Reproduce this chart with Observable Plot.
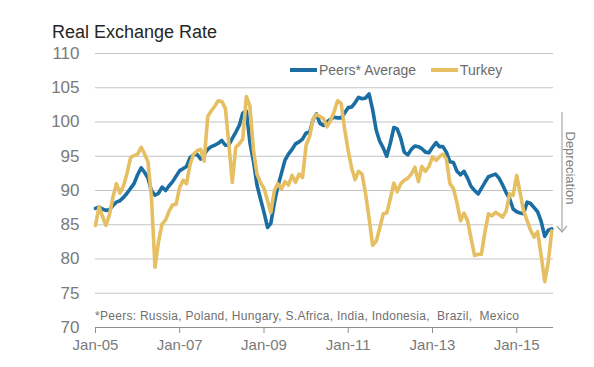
<!DOCTYPE html>
<html>
<head>
<meta charset="utf-8">
<script src="https://cdn.jsdelivr.net/npm/d3@7"></script>
<script src="https://cdn.jsdelivr.net/npm/@observablehq/plot@0.6"></script>
<style>
  html, body { margin: 0; padding: 0; background: #fff; }
  #wrap { position: relative; width: 594px; height: 367px; overflow: hidden; }
  #overlay { position: absolute; left: 0; top: 0; pointer-events: none; }
</style>
</head>
<body>
<div id="wrap">
  <div id="chart"></div>
  <svg id="overlay" width="594" height="367" font-family="'Liberation Sans', Arial, sans-serif">
    <text x="52" y="38" font-size="18" fill="#262626">Real Exchange Rate</text>
    <line x1="290" x2="317" y1="70" y2="70" stroke="#1a6ea1" stroke-width="4"/>
    <text x="319" y="75" font-size="14" fill="#6b6b6b">Peers* Average</text>
    <line x1="431" x2="458" y1="70" y2="70" stroke="#e6bf62" stroke-width="4"/>
    <text x="460" y="75" font-size="14" fill="#6b6b6b">Turkey</text>
    <line x1="562" x2="562" y1="112" y2="232" stroke="#a8a8a8" stroke-width="1.2"/>
    <polyline points="557,226 562,232 567,226" fill="none" stroke="#a8a8a8" stroke-width="1.2"/>
    <text transform="translate(566,168) rotate(90)" text-anchor="middle" font-size="13" fill="#7f7f7f">Depreciation</text>
    <text x="95" y="320" font-size="12" fill="#6f6f6f" textLength="424" lengthAdjust="spacing" style="white-space:pre">*Peers: Russia, Poland, Hungary, S.Africa, India, Indonesia,  Brazil,  Mexico</text>
  </svg>
</div>
<script>
// Monthly series, Jan 2005 .. Nov 2015
const startMonth = Date.UTC(2005, 0, 1);

const peers = [
  87.4, 87.6, 87.3, 87.1, 87.2, 87.8, 88.3, 88.5, 89.0, 89.6, 90.3, 91.0,
  92.3, 93.3, 92.7, 91.8, 90.0, 89.3, 89.6, 90.5, 90.0, 90.7, 91.3, 92.1,
  92.9, 93.2, 93.5, 94.8, 95.2, 95.3, 94.6, 95.3, 96.0, 96.4, 96.6, 96.9,
  97.3, 96.6, 96.6, 97.6, 98.5, 99.5, 101.3, 101.6, 97.0, 94.3, 90.8, 88.8,
  86.8, 84.6, 85.2, 88.2, 90.6, 92.5, 94.4, 95.3, 96.0, 96.8, 97.1, 97.5,
  98.4, 98.5, 100.3, 101.2, 99.8, 99.5, 100.0, 100.4, 100.7, 100.6, 100.6, 101.3,
  102.1, 102.2, 102.8, 103.6, 103.4, 103.5, 104.1, 101.8, 98.8, 97.2, 96.2, 95.0,
  96.9, 99.2, 99.0, 97.6, 95.6, 95.2, 96.0, 96.5, 96.4, 96.1, 95.6, 95.5,
  96.3, 97.0, 96.4, 96.4, 95.6, 94.2, 94.1, 92.8, 92.3, 92.8, 91.8, 90.6,
  90.0, 89.5, 90.3, 91.2, 92.0, 92.2, 92.4, 91.8, 90.8, 89.7, 88.8, 87.3,
  86.9, 86.7, 86.6, 88.3, 88.1, 87.5, 86.9, 85.5, 83.3, 84.2, 84.4
];

const turkey = [
  84.9, 87.6, 86.3, 84.9, 86.4, 89.0, 91.0, 89.6, 90.7, 92.5, 94.8, 95.1,
  95.3, 96.3, 95.4, 94.2, 89.0, 78.8, 82.5, 85.1, 85.7, 87.0, 87.9, 88.0,
  90.5, 91.5, 91.0, 93.8, 95.3, 95.8, 96.0, 94.3, 100.8, 101.6, 102.3, 103.1,
  103.0, 102.0, 97.0, 91.2, 96.3, 96.8, 97.5, 103.7, 102.3, 96.0, 92.4, 91.2,
  90.3, 88.5, 86.8, 90.0, 91.0, 90.2, 91.3, 90.8, 92.2, 91.2, 92.4, 91.9,
  96.6, 97.9, 100.4, 101.1, 100.8, 100.5, 99.3, 100.2, 101.5, 103.1, 102.7, 99.0,
  95.8, 93.2, 91.6, 92.8, 92.4, 89.5, 86.0, 82.0, 82.6, 84.5, 86.6, 86.7,
  88.8, 91.1, 89.8, 91.0, 91.5, 91.8, 92.4, 93.4, 91.3, 93.5, 92.8, 93.5,
  94.9, 94.4, 94.9, 95.3, 94.6, 91.0, 90.3, 88.2, 85.6, 86.7, 85.6, 83.0,
  80.5, 80.7, 80.7, 84.0, 86.6, 86.3, 86.8, 86.5, 86.1, 87.0, 89.5, 89.3,
  92.2, 89.5, 87.1, 85.6, 84.2, 83.2, 84.0, 80.5, 76.7, 79.5, 84.1
];

const yTicks = [70, 75, 80, 85, 90, 95, 100, 105, 110];
const xTickLabels = ["Jan-05", "Jan-07", "Jan-09", "Jan-11", "Jan-13", "Jan-15"];

const months = peers.map((_, i) => d3.utcMonth.offset(new Date(startMonth), i));
const peersData = months.map((d, i) => ({date: d, value: peers[i]}));
const turkeyData = months.map((d, i) => ({date: d, value: turkey[i]}));
const parseTick = d3.utcParse("%b-%y");
const xTickDates = xTickLabels.map(parseTick);

const chart = Plot.plot({
  width: 594,
  height: 367,
  marginLeft: 95,
  marginRight: 41,
  marginTop: 53,
  marginBottom: 40,
  style: {fontFamily: "'Liberation Sans', Arial, sans-serif", background: "white", overflow: "visible"},
  x: {type: "utc", domain: [new Date(startMonth), new Date(Date.UTC(2015, 10, 16))], label: null},
  y: {domain: [70, 110], label: null},
  marks: [
    Plot.gridY(yTicks.slice(1), {stroke: "#c4c4c4", strokeOpacity: 1, strokeWidth: 1}),
    Plot.ruleY([70], {stroke: "#8f8f8f", strokeWidth: 1.2}),
    Plot.axisY(yTicks, {tickSize: 0, tickPadding: 16, fontSize: 17, fill: "#7a7a7a", label: null}),
    Plot.axisX(xTickDates, {tickSize: 6, tickPadding: 6, fontSize: 15, fill: "#7a7a7a", stroke: "#8f8f8f", tickFormat: d3.utcFormat("%b-%y"), label: null}),
    Plot.lineY(peersData, {x: "date", y: "value", stroke: "#1a6ea1", strokeWidth: 3.6, strokeLinejoin: "round"}),
    Plot.lineY(turkeyData, {x: "date", y: "value", stroke: "#e6bf62", strokeWidth: 3.6, strokeLinejoin: "round"})
  ]
});
document.getElementById("chart").appendChild(chart);
</script>
</body>
</html>
